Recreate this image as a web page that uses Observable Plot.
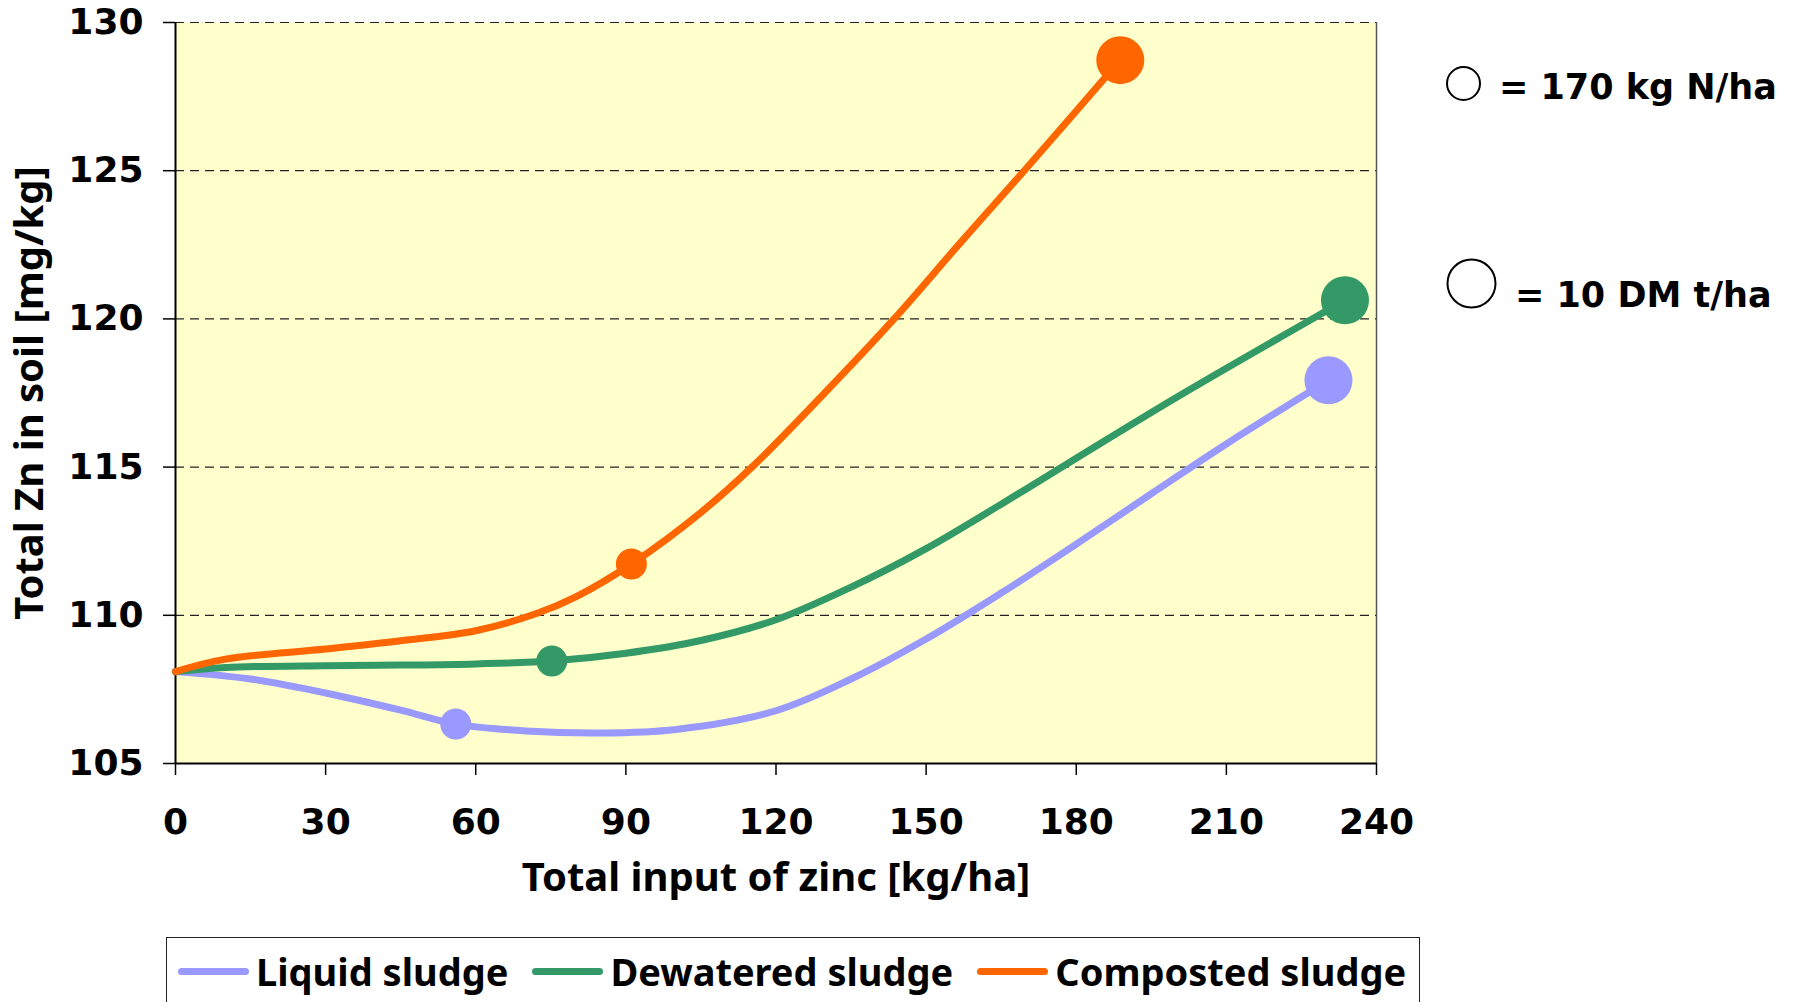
<!DOCTYPE html>
<html>
<head>
<meta charset="utf-8">
<script src="https://cdn.jsdelivr.net/npm/d3@7"></script>
<script src="https://cdn.jsdelivr.net/npm/@observablehq/plot@0.6"></script>
<style>
  html, body { margin: 0; padding: 0; background: #fff; }
  #chart { position: relative; width: 1793px; height: 1002px; overflow: hidden; }
  #sizes { position: absolute; left: 0; top: 0; }
  .legend {
    position: absolute; left: 166px; top: 937px; width: 1254px; height: 90px;
    box-sizing: border-box; border: 1.5px solid #222; background: #fff;
    display: flex; flex-wrap: nowrap; align-items: flex-start;
    padding: 13.5px 0 0 11px; gap: 24px;
  }
  .item { display: flex; align-items: center; height: 39px; }
  .swatch { width: 71px; height: 7px; border-radius: 4px; margin-right: 7px; }
  .label { font-family: "Noto Sans", sans-serif; font-weight: bold; font-size: 38px; line-height: 39px; color: #000; white-space: nowrap; }
</style>
</head>
<body>
<div id="chart"></div>
<script>
// Series names and colours
const seriesNames = ["Liquid sludge", "Dewatered sludge", "Composted sludge"];
const seriesColors = ["#9999FF", "#339966", "#FF6600"];

// Total zinc input [kg/ha] and total Zn in soil [mg/kg] along each curve
const liquidX = [0, 15, 30, 45, 56, 70, 85, 100, 120, 135, 150, 165, 180, 195, 210, 230.4];
const liquidY = [108.1, 107.85, 107.38, 106.8, 106.33, 106.1, 106.03, 106.15, 106.78, 107.85, 109.2, 110.75, 112.4, 114.1, 115.78, 117.93];

const dewateredX = [0, 10, 30, 45, 60, 75.2, 90, 105, 120, 135, 150, 165, 180, 200, 233.7];
const dewateredY = [108.1, 108.24, 108.3, 108.32, 108.36, 108.46, 108.72, 109.15, 109.85, 110.95, 112.25, 113.75, 115.3, 117.35, 120.63];

const compostedX = [0, 10, 30, 45, 60, 72, 80, 91.1, 105, 115.5, 130, 143.6, 157, 169.6, 188.8];
const compostedY = [108.1, 108.52, 108.86, 109.14, 109.48, 110.05, 110.62, 111.73, 113.47, 115.05, 117.55, 120.0, 122.6, 125.0, 128.73];

// Marked points: input reaching 170 kg N/ha (small) and 10 DM t/ha (large)
const nLimitX = [56, 75.2, 91.1];
const nLimitY = [106.33, 108.46, 111.73];
const dmLimitX = [230.4, 233.7, 188.8];
const dmLimitY = [117.93, 120.63, 128.73];

// Axis ticks
const xTicks = [0, 30, 60, 90, 120, 150, 180, 210, 240];
const yTicks = [105, 110, 115, 120, 125, 130];
const gridValues = [110, 115, 120, 125, 130];

const xTitle = "Total input of zinc [kg/ha]";
const yTitle = "Total Zn in soil [mg/kg]";
const sizeKeys = ["= 170 kg N/ha", "= 10 DM t/ha"];

// Long-format rows for the line mark
const curves = [[liquidX, liquidY], [dewateredX, dewateredY], [compostedX, compostedY]];
const rows = curves.flatMap(([xs, ys], i) => xs.map((x, j) => ({series: seriesNames[i], x, y: ys[j]})));
const nPoints = seriesNames.map((s, i) => ({series: s, x: nLimitX[i], y: nLimitY[i]}));
const dmPoints = seriesNames.map((s, i) => ({series: s, x: dmLimitX[i], y: dmLimitY[i]}));

const titleFont = {fontFamily: "Noto Sans", fontWeight: "bold", fontSize: 40, fill: "#000"};

const plot = Plot.plot({
  width: 1793,
  height: 930,
  marginLeft: 175,
  marginRight: 417,
  marginTop: 22,
  marginBottom: 167,
  style: {fontFamily: "DejaVu Sans", fontSize: "36px", fontWeight: "bold", color: "#000", background: "transparent", overflow: "visible"},
  x: {domain: [0, 240]},
  y: {domain: [105, 130]},
  color: {domain: seriesNames, range: seriesColors},
  marks: [
    Plot.frame({fill: "#FFFFCC", stroke: "none"}),
    Plot.gridY(gridValues, {stroke: "#222", strokeOpacity: 1, strokeWidth: 1.2, strokeDasharray: "9,6"}),
    Plot.ruleX([240], {stroke: "#555", strokeWidth: 1.5}),
    Plot.axisX(xTicks, {tickSize: 12, tickPadding: 33, strokeWidth: 1.5, label: null}),
    Plot.axisY(yTicks, {tickSize: 12, tickPadding: 20, strokeWidth: 1.5, label: null}),
    Plot.ruleY([105], {stroke: "#000", strokeWidth: 2}),
    Plot.ruleX([0], {stroke: "#000", strokeWidth: 2}),
    Plot.line(rows, {x: "x", y: "y", z: "series", stroke: "series", strokeWidth: 7, curve: "catmull-rom", strokeLinecap: "round"}),
    Plot.dot(nPoints, {x: "x", y: "y", r: 15.5, fill: "series", stroke: "none"}),
    Plot.dot(dmPoints, {x: "x", y: "y", r: 24, fill: "series", stroke: "none"}),
    Plot.text([xTitle], {frameAnchor: "bottom", dy: 115, text: d => d, textAnchor: "middle", lineAnchor: "middle", ...titleFont}),
    Plot.text([yTitle], {frameAnchor: "left", dx: -145, text: d => d, rotate: -90, textAnchor: "middle", lineAnchor: "middle", ...titleFont})
  ]
});

const chart = document.getElementById("chart");
chart.appendChild(plot);

// Size key for the two marker sizes
const key = d3.create("svg").attr("id", "sizes").attr("width", 1793).attr("height", 930);
const keyRows = [{r: 16.5, cx: 1463.5, cy: 83.5, tx: 1499, ty: 98.5}, {r: 24, cx: 1471.5, cy: 283.5, tx: 1515, ty: 306.5}];
keyRows.forEach((k, i) => {
  key.append("circle").attr("cx", k.cx).attr("cy", k.cy).attr("r", k.r)
    .attr("fill", "#fff").attr("stroke", "#000").attr("stroke-width", 2);
  key.append("text").attr("x", k.tx).attr("y", k.ty)
    .attr("font-family", "DejaVu Sans").attr("font-weight", "bold").attr("font-size", 35)
    .text(sizeKeys[i]);
});
chart.appendChild(key.node());

// Series legend below the chart
const legend = d3.select(chart).append("div").attr("class", "legend");
seriesNames.forEach((s, i) => {
  const item = legend.append("div").attr("class", "item");
  item.append("span").attr("class", "swatch").style("background", seriesColors[i]);
  item.append("span").attr("class", "label").text(s);
});
</script>
</body>
</html>
